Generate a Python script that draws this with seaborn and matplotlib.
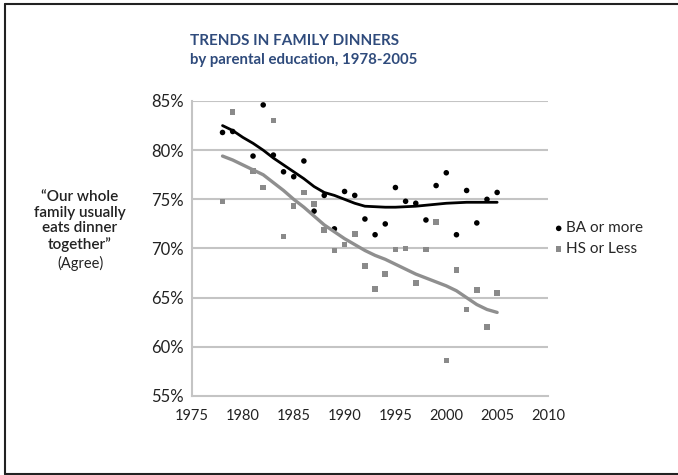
import matplotlib
matplotlib.use("Agg")
import matplotlib.pyplot as plt
from matplotlib.lines import Line2D
import seaborn as sns
import pandas as pd

# data
years = [1978, 1979, 1981, 1982, 1983, 1984, 1985, 1986, 1987, 1988, 1989,
         1990, 1991, 1992, 1993, 1994, 1995, 1996, 1997, 1998, 1999, 2000,
         2001, 2002, 2003, 2004, 2005]
ba_more = [81.8, 81.9, 79.4, 84.6, 79.5, 77.8, 77.3, 78.9, 73.8, 75.4, 72.0,
           75.8, 75.4, 73.0, 71.4, 72.5, 76.2, 74.8, 74.6, 72.9, 76.4, 77.7,
           71.4, 75.9, 72.6, 75.0, 75.7]
hs_less = [74.8, 83.9, 77.9, 76.2, 83.0, 71.2, 74.3, 75.7, 74.5, 71.9, 69.8,
           70.4, 71.5, 68.2, 65.9, 67.4, 69.9, 70.0, 66.5, 69.9, 72.7, 58.6,
           67.8, 63.8, 65.8, 62.0, 65.5]

# smoothed trend lines
trend_years = list(range(1978, 2006))
ba_trend = [82.5, 82.0, 81.3, 80.7, 80.0, 79.2, 78.5, 77.8, 77.1, 76.3, 75.7,
            75.4, 75.0, 74.6, 74.3, 74.25, 74.2, 74.2, 74.25, 74.3, 74.4, 74.5,
            74.6, 74.65, 74.7, 74.7, 74.7, 74.7]
hs_trend = [79.4, 79.0, 78.5, 78.0, 77.5, 76.7, 75.9, 75.0, 74.2, 73.3, 72.4,
            71.7, 71.0, 70.4, 69.8, 69.3, 68.9, 68.4, 67.9, 67.4, 67.0, 66.6,
            66.2, 65.7, 65.0, 64.3, 63.8, 63.5]

x_ticks = [1975, 1980, 1985, 1990, 1995, 2000, 2005, 2010]
y_ticks = [55, 60, 65, 70, 75, 80, 85]

pts = pd.DataFrame({'year': years, 'ba': ba_more, 'hs': hs_less})
trend = pd.DataFrame({'year': trend_years, 'ba': ba_trend, 'hs': hs_trend})

sns.set_style("white")
plt.rcParams['font.family'] = ['Lato', 'DejaVu Sans']

fig = plt.figure(figsize=(6.78, 4.75), dpi=100)
ax = fig.add_axes([192 / 678, 1 - 396 / 475, 356 / 678, 295 / 475])

grid_col = '#c4c4c4'
dark_gray = '#8a8a8a'

sns.lineplot(data=trend, x='year', y='hs', ax=ax, color='#8f8f8f', lw=2.4)
sns.lineplot(data=trend, x='year', y='ba', ax=ax, color='black', lw=2.0)
sns.scatterplot(data=pts, x='year', y='hs', ax=ax, marker='s', s=16,
                color=dark_gray, edgecolor='none', label='HS or Less')
sns.scatterplot(data=pts, x='year', y='ba', ax=ax, marker='o', s=16,
                color='black', edgecolor='none', label='BA or more')

ax.set_xlim(1975, 2010)
ax.set_ylim(55, 85)
ax.set_xticks(x_ticks)
ax.set_yticks(y_ticks)
ax.set_xticklabels([str(t) for t in x_ticks], fontsize=10.5, color='#222222')
ax.set_yticklabels([f'{t}%' for t in y_ticks], fontsize=12, color='#222222')
ax.set_xlabel('')
ax.set_ylabel('')
for y in y_ticks[1:]:
    ax.axhline(y, color=grid_col, lw=1.5, zorder=0)
for side in ['top', 'right']:
    ax.spines[side].set_visible(False)
for side in ['left', 'bottom']:
    ax.spines[side].set_color(grid_col)
    ax.spines[side].set_linewidth(1.5)
ax.tick_params(axis='both', length=3, width=1.2, color=grid_col, direction='out', pad=3)
ax.tick_params(axis='x', pad=6)

# legend at right of the plot
handles, labels = ax.get_legend_handles_labels()
order = [labels.index('BA or more'), labels.index('HS or Less')]
ax.legend([handles[i] for i in order], [labels[i] for i in order],
          loc='upper left', bbox_to_anchor=(1.0, 0.623), frameon=False,
          fontsize=11, handlelength=0.2, handletextpad=0.4, labelspacing=0.45,
          markerscale=1.0, borderaxespad=0.2)

# title
fig.text(190 / 678, 1 - 41 / 475, 'TRENDS IN FAMILY DINNERS', fontsize=11,
         fontweight='bold', color='#2f4b7c', va='center', ha='left')
fig.text(190 / 678, 1 - 60 / 475, 'by parental education, 1978-2005', fontsize=10.8,
         fontweight='bold', color='#2f4b7c', va='center', ha='left')

# left side question text
fig.text(80 / 678, 1 - 221 / 475,
         '\u201cOur whole\nfamily usually\neats dinner\ntogether\u201d',
         fontsize=11, fontweight='semibold', color='#222222', ha='center', va='center',
         linespacing=1.15)
fig.text(80 / 678, 1 - 263 / 475, '(Agree)', fontsize=10.5, color='#222222',
         ha='center', va='center')

# frame around the figure
for xs, ys in [([5 / 678, 1.01], [1 - 4 / 475, 1 - 4 / 475]),
               ([5 / 678, 5 / 678], [1 / 475, 1 - 4 / 475]),
               ([5 / 678, 1.01], [1 / 475, 1 / 475])]:
    fig.add_artist(Line2D(xs, ys, color='#222222', lw=1.5, transform=fig.transFigure))

fig.savefig('out.png', dpi=100)
